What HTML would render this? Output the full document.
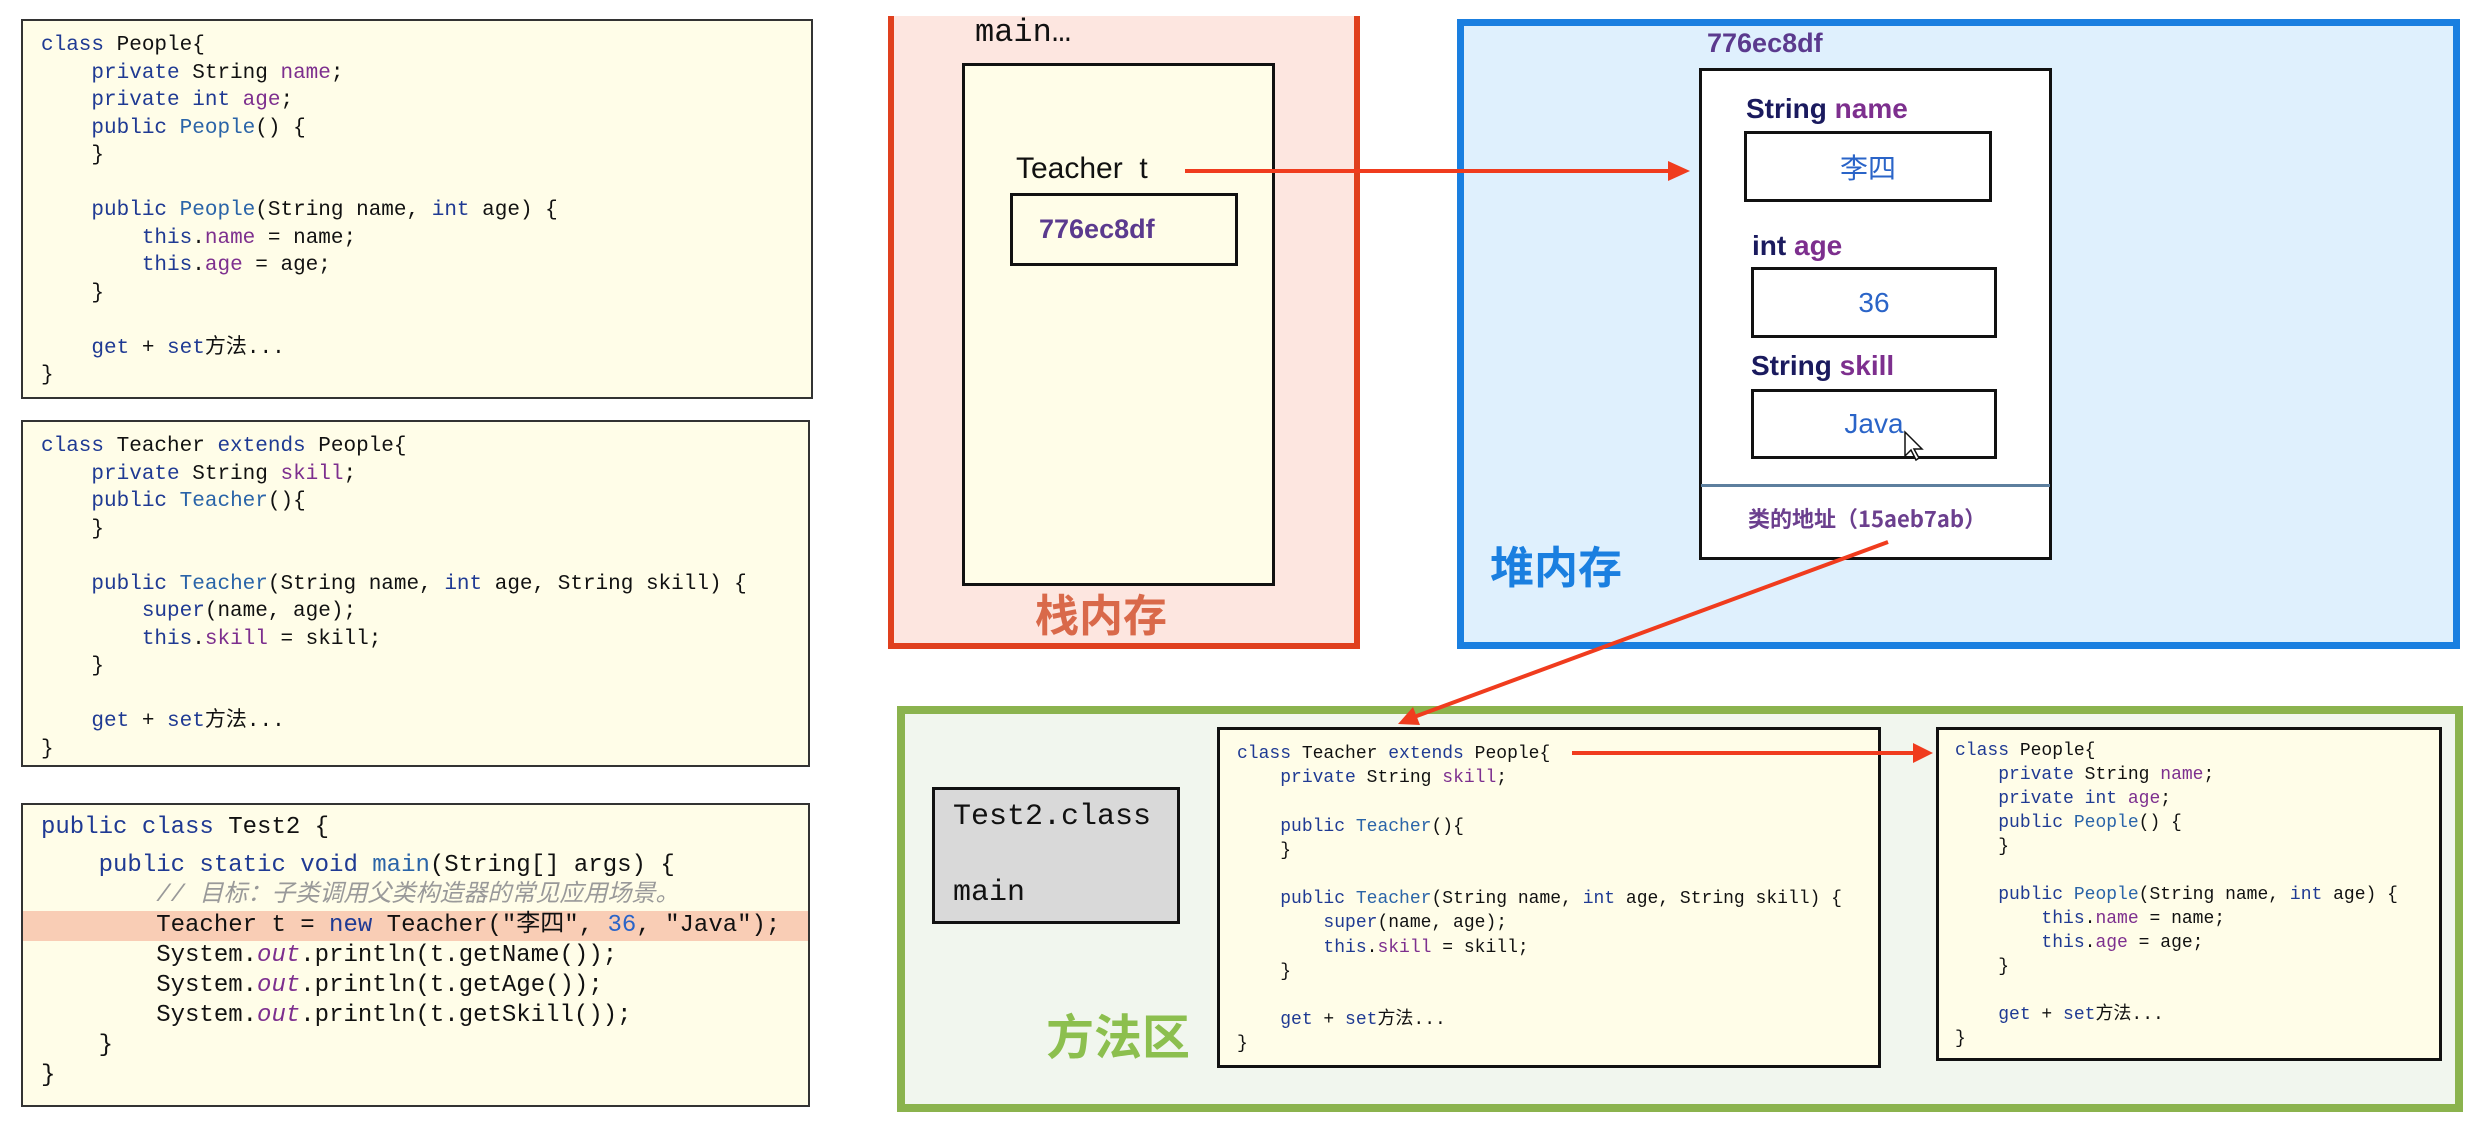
<!DOCTYPE html>
<html><head><meta charset="utf-8">
<style>
*{margin:0;padding:0;box-sizing:border-box}
body{width:2478px;height:1133px;background:#fff;position:relative;overflow:hidden;font-family:"Liberation Sans","Noto Sans CJK SC",sans-serif}
.a{position:absolute}
.code{position:absolute;background:#fffde8;border:2px solid #333}
pre{position:absolute;font-family:"Liberation Mono","Noto Sans CJK SC",monospace;color:#111;white-space:pre}
.k{color:#1f3a93}.f{color:#7d2f8e}.c{color:#2a64a8}.m{color:#999;font-style:italic}.o{color:#7d2f8e;font-style:italic}.n{color:#2a64c8}
.lbl{position:absolute;font-weight:bold;font-size:28px;color:#1a1a5e;font-family:"Liberation Sans","DejaVu Sans",sans-serif}
.vb{position:absolute;background:#fff;border:3px solid #111;display:flex;align-items:center;justify-content:center;color:#2a64c8;font-size:28px}
</style></head><body>

<div class="code" style="left:21px;top:19px;width:792px;height:380px"></div>
<pre style="left:41px;top:32px;font-size:21px;line-height:27.5px"><span class="k">class</span> People{
    <span class="k">private</span> String <span class="f">name</span>;
    <span class="k">private</span> <span class="k">int</span> <span class="f">age</span>;
    <span class="k">public</span> <span class="c">People</span>() {
    }

    <span class="k">public</span> <span class="c">People</span>(String name, <span class="k">int</span> age) {
        <span class="k">this</span>.<span class="f">name</span> = name;
        <span class="k">this</span>.<span class="f">age</span> = age;
    }

    <span class="k">get</span> + <span class="k">set</span>方法...
}</pre>

<div class="code" style="left:21px;top:420px;width:789px;height:347px"></div>
<pre style="left:41px;top:433px;font-size:21px;line-height:27.5px"><span class="k">class</span> Teacher <span class="k">extends</span> People{
    <span class="k">private</span> String <span class="f">skill</span>;
    <span class="k">public</span> <span class="c">Teacher</span>(){
    }

    <span class="k">public</span> <span class="c">Teacher</span>(String name, <span class="k">int</span> age, String skill) {
        <span class="k">super</span>(name, age);
        <span class="k">this</span>.<span class="f">skill</span> = skill;
    }

    <span class="k">get</span> + <span class="k">set</span>方法...
}</pre>

<div class="code" style="left:21px;top:803px;width:789px;height:304px"></div>
<div class="a" style="left:23px;top:911px;width:785px;height:30px;background:#f9cdb5"></div>
<pre style="left:41px;top:813px;font-size:24px;line-height:30px"><span class="k">public class</span> Test2 {</pre>
<pre style="left:41px;top:851px;font-size:24px;line-height:30px">    <span class="k">public static void</span> <span class="c">main</span>(String[] args) {
        <span class="m">// 目标：子类调用父类构造器的常见应用场景。</span>
        Teacher t = <span class="k">new</span> Teacher("李四", <span class="n">36</span>, "Java");
        System.<span class="o">out</span>.println(t.getName());
        System.<span class="o">out</span>.println(t.getAge());
        System.<span class="o">out</span>.println(t.getSkill());
    }
}</pre>

<div class="a" style="left:888px;top:16px;width:472px;height:633px;background:#fde6e0;border:6px solid #e0401e;border-top:none"></div>
<div class="a" style="left:962px;top:63px;width:313px;height:523px;background:#fffde8;border:3px solid #111"></div>
<div class="a" style="left:975px;top:14px;font-family:'Liberation Mono',monospace;font-size:32px;color:#111">main…</div>
<div class="a" style="left:1016px;top:152px;font-size:30px;color:#111">Teacher&nbsp; t</div>
<div class="a" style="left:1010px;top:193px;width:228px;height:73px;border:3px solid #111;background:#fffde8;display:flex;align-items:center;padding-left:26px;font-weight:bold;font-size:27px;color:#5b3a8e">776ec8df</div>
<div class="a" style="left:1035px;top:588px;font-size:44px;font-weight:bold;color:#d9694a;font-family:'Noto Sans CJK SC',sans-serif;line-height:48px">栈内存</div>

<div class="a" style="left:1457px;top:19px;width:1003px;height:630px;background:#dff0fd;border:7px solid #1a7fe0"></div>
<div class="a" style="left:1707px;top:28px;font-weight:bold;font-size:27px;color:#5b3a8e">776ec8df</div>
<div class="a" style="left:1699px;top:68px;width:353px;height:492px;background:#fff;border:3px solid #111"></div>
<div class="a" style="left:1701px;top:484px;width:349px;height:3px;background:#5d7f9e"></div>
<div class="lbl" style="left:1746px;top:93px">String <span class="f">name</span></div>
<div class="vb" style="left:1744px;top:131px;width:248px;height:71px;font-family:'Noto Sans CJK SC',sans-serif">李四</div>
<div class="lbl" style="left:1752px;top:230px">int <span class="f">age</span></div>
<div class="vb" style="left:1751px;top:267px;width:246px;height:71px">36</div>
<div class="lbl" style="left:1751px;top:350px">String <span class="f">skill</span></div>
<div class="vb" style="left:1751px;top:389px;width:246px;height:70px">Java</div>
<div class="a" style="left:1748px;top:502px;font-size:22px;font-weight:bold;color:#6b3f8e;font-family:'Noto Sans CJK SC',sans-serif">类的地址（15aeb7ab）</div>
<div class="a" style="left:1490px;top:540px;font-size:44px;font-weight:bold;color:#1a7fe0;font-family:'Noto Sans CJK SC',sans-serif;line-height:48px">堆内存</div>

<div class="a" style="left:897px;top:706px;width:1566px;height:406px;background:#f1f6ee;border:8px solid #8bb34e"></div>
<div class="a" style="left:932px;top:787px;width:248px;height:137px;background:#d9d9d9;border:3px solid #111"></div>
<div class="a" style="left:953px;top:800px;font-family:'Liberation Mono',monospace;font-size:30px;color:#111">Test2.class</div>
<div class="a" style="left:953px;top:876px;font-family:'Liberation Mono',monospace;font-size:30px;color:#111">main</div>
<div class="a" style="left:1046px;top:1005px;font-size:48px;font-weight:bold;color:#8cbf4e;font-family:'Noto Sans CJK SC',sans-serif;line-height:56px">方法区</div>

<div class="code" style="left:1217px;top:727px;width:664px;height:341px;border-width:3px;border-color:#111"></div>
<pre style="left:1237px;top:742px;font-size:18px;line-height:24.2px"><span class="k">class</span> Teacher <span class="k">extends</span> People{
    <span class="k">private</span> String <span class="f">skill</span>;

    <span class="k">public</span> <span class="c">Teacher</span>(){
    }

    <span class="k">public</span> <span class="c">Teacher</span>(String name, <span class="k">int</span> age, String skill) {
        <span class="k">super</span>(name, age);
        <span class="k">this</span>.<span class="f">skill</span> = skill;
    }

    <span class="k">get</span> + <span class="k">set</span>方法...
}</pre>

<div class="code" style="left:1936px;top:727px;width:506px;height:334px;border-width:3px;border-color:#111"></div>
<pre style="left:1955px;top:739px;font-size:18px;line-height:24px"><span class="k">class</span> People{
    <span class="k">private</span> String <span class="f">name</span>;
    <span class="k">private</span> <span class="k">int</span> <span class="f">age</span>;
    <span class="k">public</span> <span class="c">People</span>() {
    }

    <span class="k">public</span> <span class="c">People</span>(String name, <span class="k">int</span> age) {
        <span class="k">this</span>.<span class="f">name</span> = name;
        <span class="k">this</span>.<span class="f">age</span> = age;
    }

    <span class="k">get</span> + <span class="k">set</span>方法...
}</pre>

<svg class="a" style="left:0;top:0" width="2478" height="1133">
<g stroke="#f03c1e" stroke-width="4" fill="#f03c1e">
<line x1="1185" y1="171" x2="1672" y2="171"/>
<polygon points="1690,171 1668,161 1668,181" stroke="none"/>
<line x1="1888" y1="542" x2="1414" y2="717"/>
<polygon points="1398,724 1413,707 1420,725" stroke="none"/>
<line x1="1572" y1="753" x2="1915" y2="753"/>
<polygon points="1933,753 1913,743 1913,763" stroke="none"/>
</g>
<path d="M1905 432 L1905 456 L1911 450 L1916 460 L1919 458 L1914 449 L1922 449 Z" fill="#fff" stroke="#111" stroke-width="1.5"/>
</svg>
</body></html>
